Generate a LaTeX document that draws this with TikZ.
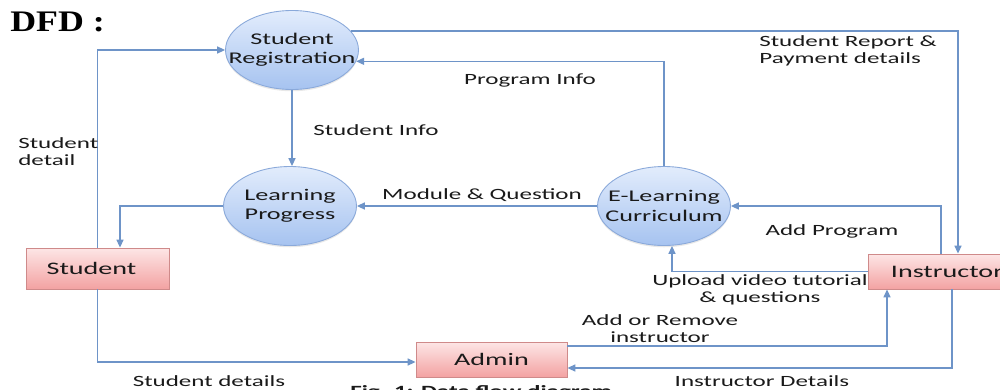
\documentclass[tikz,border=0pt]{standalone}
\usepackage{fontspec}
\setmainfont{Carlito}[FakeStretch=1.6]
\newfontfamily\dfdfont{Liberation Serif}[FakeStretch=1.2]
\usetikzlibrary{arrows.meta,shapes.geometric,shadows}
\definecolor{flowc}{HTML}{6E94C8}
\definecolor{procTop}{HTML}{E2ECFC}
\definecolor{procBot}{HTML}{A6C3F0}
\definecolor{procBorder}{HTML}{8AA9DA}
\definecolor{entTop}{HTML}{FDE6E6}
\definecolor{entBot}{HTML}{F3A2A2}
\definecolor{entBorder}{HTML}{CF8A8A}
\definecolor{txt}{HTML}{1A1A1A}
\tikzset{
  proc/.style={ellipse, draw=procBorder, line width=0.5pt, top color=procTop, bottom color=procBot,
    minimum width=2.66cm, minimum height=1.58cm, inner sep=0pt,
    drop shadow={shadow xshift=0pt, shadow yshift=-1pt, opacity=0.18}},
  proctext/.style={font=\fontsize{9.3}{11}\selectfont, text=txt, align=center, inner sep=0pt},
  entity/.style={rectangle, draw=entBorder, line width=0.5pt, top color=entTop, bottom color=entBot,
    inner sep=0pt, font=\fontsize{10}{12}\selectfont, text=txt,
    drop shadow={shadow xshift=0.6pt, shadow yshift=-0.8pt, opacity=0.25}},
  flow/.style={draw=flowc, line width=0.7pt, -{Triangle[length=4.5pt,width=4pt]}},
  lab/.style={font=\fontsize{8.9}{9.8}\selectfont, text=txt, inner sep=0pt},
}
\begin{document}
\begin{tikzpicture}[x=0.02cm,y=-0.02cm]
\useasboundingbox (0,0) rectangle (1000,389);
\clip (0,0) rectangle (1000,389);
\fill[white] (0,0) rectangle (1000,389);

% title
\node[anchor=west, inner sep=0pt, font=\dfdfont\bfseries\fontsize{17}{20}\selectfont] (title) at (10,22) {DFD :};

% processes
\node[proc, label={[proctext]center:Student\\Registration}] (sr) at (292,50) {};
\node[proc, label={[proctext]center:Learning\\Progress}] (lp) at (290,206) {};
\node[proc, label={[proctext]center:E-Learning\\Curriculum}] (el) at (664,206) {};

% entities
\node[entity, minimum width=2.86cm, minimum height=0.82cm, label={[font=\fontsize{10}{12}\selectfont, text=txt, inner sep=0pt]center:\hspace*{-0.24cm}Student}] (st) at (97.5,268.5) {};
\node[entity, minimum width=3.02cm, minimum height=0.7cm] (ad) at (491.5,359.5) {Admin};
\node[entity, minimum width=3.16cm, minimum height=0.7cm] (ins) at (947,271.5) {Instructor};

% flows
\draw[flow] (st.north) |- (sr.west);
\draw[flow] (sr.south) -- (sr.south |- lp.north);
\draw[flow] (sr.18) -| ([xshift=0.22cm]ins.north);
\draw[flow] (el.north) |- (sr.-10);
\draw[flow] (lp.west) -| ([xshift=0.45cm]st.north);
\draw[flow] (el.west) -- (lp.east);
\draw[flow] ([xshift=-0.12cm]ins.north) |- (el.east);
\draw[flow] (ins.west) -| ([xshift=0.16cm]el.south);
\draw[flow] ([yshift=0.27cm]ad.east) -| ([xshift=-1.2cm]ins.south);
\draw[flow] ([xshift=0.1cm]ins.south) |- ([yshift=-0.17cm]ad.east);
\draw[flow] (st.south) |- ([yshift=-0.05cm]ad.west);

% labels
\node[lab, anchor=west, align=left] (l1) at (18,152) {Student\\detail};
\node[lab, anchor=west] (l2) at (313,130) {Student Info};
\node[lab, anchor=west, align=left] (l3) at (759,51) {Student Report \&\\Payment details};
\node[lab] (l4) at (530,80) {Program Info};
\node[lab] (l5) at (482,195) {Module \& Question};
\node[lab] (l6) at (832,231) {Add Program};
\node[lab, align=center] (l7) at (760,290) {Upload video tutorial\\\& questions};
\node[lab, align=center] (l8) at (660,329) {Add or Remove\\instructor};
\node[lab] (l9) at (762,381) {Instructor Details};
\node[lab] (l10) at (209,381) {Student details};
\node[lab, anchor=base west, font=\bfseries\fontsize{8.9}{10}\selectfont] (cap) at (350,396) {Fig. 1: Data flow diagram};
\end{tikzpicture}
\end{document}
